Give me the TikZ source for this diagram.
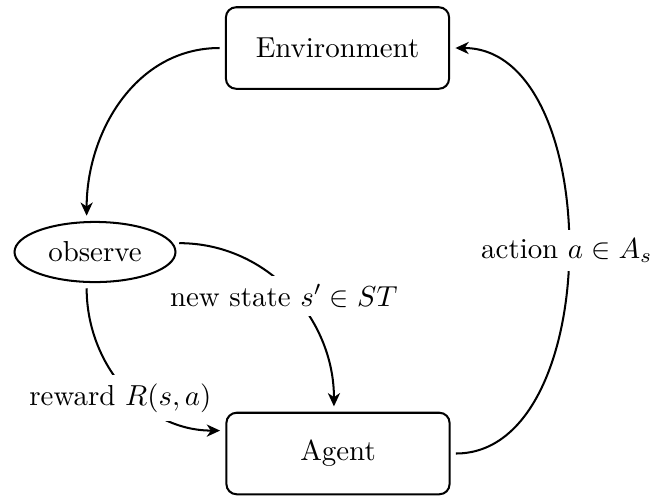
\documentclass[tikz,border=0pt]{standalone}
\usetikzlibrary{shapes.geometric,arrows.meta}
\begin{document}
\begin{tikzpicture}[x=0.346pt,y=-0.346pt,
  line width=0.7pt,
  >={Stealth[length=4.6pt,width=4.2pt,inset=1.4pt]},
  boxnode/.style={draw,rounded corners=3.5pt,minimum width=77.2pt,minimum height=28.2pt,inner sep=0pt,outer sep=2.2pt},
  ovalnode/.style={draw,ellipse,minimum width=55.7pt,minimum height=20.8pt,inner sep=0pt,outer sep=2.2pt},
  lbl/.style={fill=white,inner sep=3pt},
  conn/.style={->}]
\useasboundingbox (0,0) rectangle (653,495);
\node[boxnode] (env) at (337.5,48) {Environment};
\node[boxnode] (agent) at (338,453.5) {Agent};
\node[ovalnode] (obs) at (95,252) {observe};
\draw[conn] (env.west) to[out=180,in=90] (obs.103);
\draw[conn] (obs.6) to[out=0,in=90] node[lbl,pos=0.5,xshift=-2pt,yshift=-1.5pt] {new state $s'\in ST$} ([xshift=-1.4pt]agent.north);
\draw[conn] (obs.257) to[out=-90,in=180] node[lbl,pos=0.5,xshift=-1.5pt,yshift=-3.5pt] {reward $R(s,a)$} (agent.169);
\draw[conn] (agent.east) to[out=0,in=0,looseness=0.95] node[lbl,pos=0.5,xshift=-0.5pt] {action $a\in A_s$} (env.east);
\end{tikzpicture}
\end{document}
